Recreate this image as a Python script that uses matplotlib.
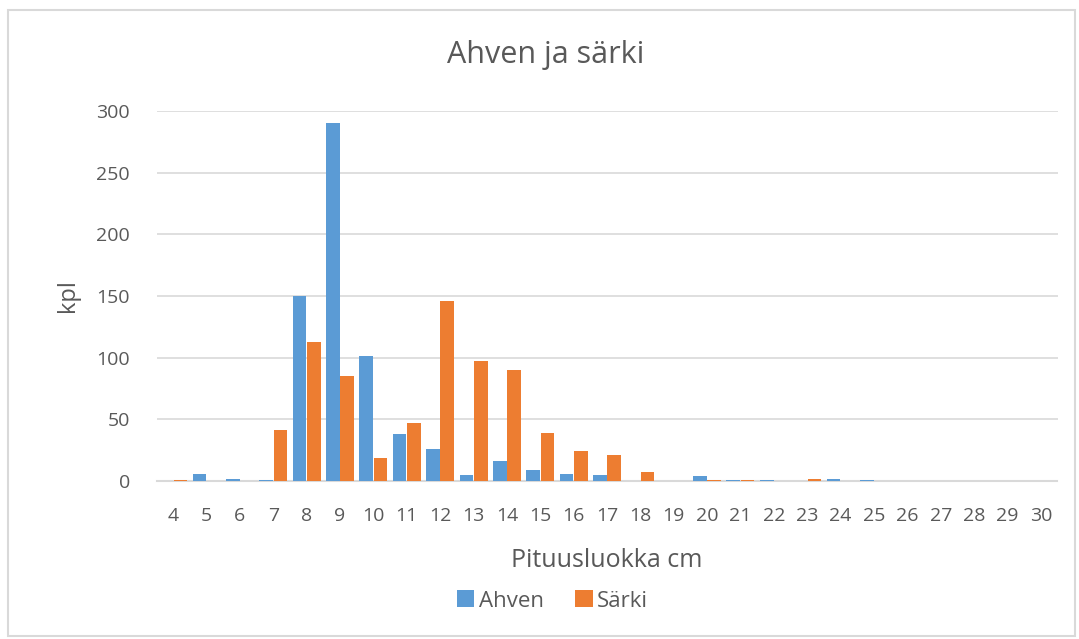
import matplotlib
matplotlib.use("Agg")
import matplotlib.pyplot as plt
import numpy as np
from matplotlib.patches import Rectangle

categories = [str(i) for i in range(4, 31)]
ahven = [0, 6, 2, 1, 150, 290, 101, 38, 26, 5, 16, 9, 6, 5, 0, 0, 4, 1, 1, 0, 2, 1, 0, 0, 0, 0, 0]
sarki = [1, 0, 0, 41, 113, 85, 19, 47, 146, 97, 90, 39, 24, 21, 7, 0, 1, 1, 0, 2, 0, 0, 0, 0, 0, 0, 0]

plt.rcParams['font.family'] = ['Open Sans', 'DejaVu Sans']
text_color = '#595959'
blue = '#5B9BD5'
orange = '#ED7D31'

fig = plt.figure(figsize=(10.79, 6.39), dpi=100)
ax = fig.add_axes([156.5/1079, 1 - 481/639, (1057.5-156.5)/1079, (481-111)/639])

x = np.arange(len(categories))
w = 0.41
ax.bar(x - w/2 - 0.01, ahven, width=w, color=blue, label='Ahven', zorder=3)
ax.bar(x + w/2 + 0.01, sarki, width=w, color=orange, label='Särki', zorder=3)

ax.set_xlim(-0.5, len(categories) - 0.5)
ax.set_ylim(0, 300)
ax.set_yticks(range(0, 301, 50))
ax.set_xticks(x)
ax.set_xticklabels(categories)
ax.grid(axis='y', color='#D9D9D9', linewidth=1.2, zorder=0)
for s in ['top', 'right', 'left']:
    ax.spines[s].set_visible(False)
ax.spines['bottom'].set_color('#D9D9D9')
ax.spines['bottom'].set_linewidth(1.5)
ax.tick_params(axis='both', length=0, labelsize=14, colors=text_color)
ax.tick_params(axis='x', pad=19)
ax.tick_params(axis='y', pad=19)

ax.set_xlabel('Pituusluokka cm', fontsize=18, color=text_color, labelpad=16)
ax.set_ylabel('kpl', fontsize=17, color=text_color, labelpad=12)
fig.text(0.506, 1 - 55/639, 'Ahven ja särki', ha='center', va='center', fontsize=22, color=text_color)

handles, labels = ax.get_legend_handles_labels()
fig.legend(handles, labels, loc='center', bbox_to_anchor=(0.512, 1 - 601/639), ncol=2,
           frameon=False, fontsize=16, labelcolor=text_color, handlelength=0.8, handleheight=0.8,
           handletextpad=0.2, columnspacing=1.4)

fig.patches.append(Rectangle((8/1079, 1 - 636/639), (1075-8)/1079, (636-10)/639,
                             transform=fig.transFigure, fill=False, edgecolor='#D9D9D9', linewidth=1.5))

fig.savefig('out.png', dpi=100)
